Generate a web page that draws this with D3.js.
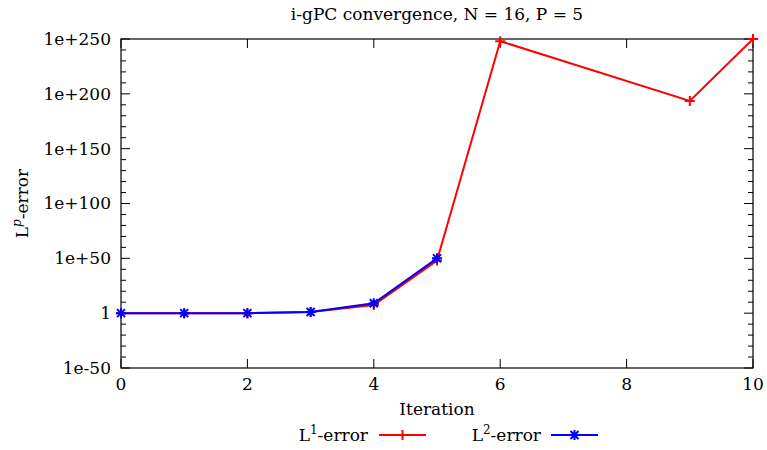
<!DOCTYPE html>
<html>
<head>
<meta charset="utf-8">
<script src="https://cdn.jsdelivr.net/npm/d3@7"></script>
<style>
  body { margin: 0; background: #fff; }
</style>
</head>
<body>
<div id="chart"></div>
<script>
// data (log10 of the error)
const iterations = [0, 1, 2, 3, 4, 5, 6, 9, 10]
const l1Log = [0, 0, 0, 1, 7.5, 48, 248, 193.5, 250]
const l2Iter = [0, 1, 2, 3, 4, 5]
const l2Log = [0, 0, 0, 1, 9, 50]
const yTicks = [-50, 0, 50, 100, 150, 200, 250]
const xTicks = [0, 2, 4, 6, 8, 10]

const width = 767, height = 450
const margin = { top: 39, right: 14, bottom: 82, left: 121 }
const bw = width - margin.left - margin.right
const bh = height - margin.top - margin.bottom
const font = "'DejaVu Serif', 'Liberation Serif', serif"

const svg = d3.select("#chart").append("svg")
  .attr("width", width).attr("height", height)
  .attr("font-family", font)

const g = svg.append("g").attr("transform", `translate(${margin.left},${margin.top})`)

const x = d3.scaleLinear().domain([0, 10]).range([0, bw])
const y = d3.scaleLinear().domain([-50, 250]).range([bh, 0])

const yLabel = v => v === 0 ? "1" : (v > 0 ? "1e+" + v : "1e" + v)

// ticks (inward, mirrored)
const minorY = d3.range(-50, 251, 10).filter(v => v % 50 !== 0)
const tickG = g.append("g").attr("stroke", "#000").attr("stroke-width", 1)
yTicks.forEach(v => {
  tickG.append("line").attr("x1", 0).attr("x2", 9).attr("y1", y(v)).attr("y2", y(v))
  tickG.append("line").attr("x1", bw).attr("x2", bw - 9).attr("y1", y(v)).attr("y2", y(v))
})
minorY.forEach(v => {
  tickG.append("line").attr("x1", 0).attr("x2", 5).attr("y1", y(v)).attr("y2", y(v))
  tickG.append("line").attr("x1", bw).attr("x2", bw - 5).attr("y1", y(v)).attr("y2", y(v))
})
xTicks.forEach(v => {
  tickG.append("line").attr("x1", x(v)).attr("x2", x(v)).attr("y1", bh).attr("y2", bh - 9)
  tickG.append("line").attr("x1", x(v)).attr("x2", x(v)).attr("y1", 0).attr("y2", 9)
})

// frame
g.append("rect").attr("width", bw).attr("height", bh)
  .attr("fill", "none").attr("stroke", "#000").attr("stroke-width", 1.2)

// tick labels
g.selectAll(".ylab").data(yTicks).enter().append("text")
  .attr("x", -10).attr("y", d => y(d)).attr("dy", "0.35em")
  .attr("text-anchor", "end").attr("font-size", 17).text(yLabel)
g.selectAll(".xlab").data(xTicks).enter().append("text")
  .attr("x", d => x(d)).attr("y", bh + 22)
  .attr("text-anchor", "middle").attr("font-size", 17).text(d => d)

// titles
svg.append("text").attr("x", margin.left + bw / 2).attr("y", 20)
  .attr("text-anchor", "middle").attr("font-size", 17).text("i-gPC convergence, N = 16, P = 5")
svg.append("text").attr("x", margin.left + bw / 2).attr("y", 415)
  .attr("text-anchor", "middle").attr("font-size", 17).text("Iteration")
const yt = svg.append("text").attr("transform", `translate(28,${margin.top + bh / 2}) rotate(-90)`)
  .attr("text-anchor", "middle").attr("font-size", 17)
yt.append("tspan").text("L")
yt.append("tspan").attr("font-style", "italic").attr("font-size", 12).attr("dy", -7).text("p")
yt.append("tspan").attr("dy", 7).text("-error")

// markers
function plus(sel, cx, cy, color) {
  sel.append("path").attr("d", `M${cx - 5},${cy}H${cx + 5}M${cx},${cy - 5}V${cy + 5}`)
    .attr("stroke", color).attr("stroke-width", 2)
}
function star(sel, cx, cy, color) {
  sel.append("path").attr("d",
    `M${cx - 5},${cy}H${cx + 5}M${cx},${cy - 5}V${cy + 5}M${cx - 4},${cy - 4}L${cx + 4},${cy + 4}M${cx - 4},${cy + 4}L${cx + 4},${cy - 4}`)
    .attr("stroke", color).attr("stroke-width", 2)
}

const line = d3.line().x(d => x(d[0])).y(d => y(d[1]))
const l1 = iterations.map((it, i) => [it, l1Log[i]])
const l2 = l2Iter.map((it, i) => [it, l2Log[i]])

g.append("path").attr("d", line(l1)).attr("fill", "none").attr("stroke", "#ff0000").attr("stroke-width", 2)
l1.forEach(d => plus(g, x(d[0]), y(d[1]), "#ff0000"))
g.append("path").attr("d", line(l2)).attr("fill", "none").attr("stroke", "#0000ff").attr("stroke-width", 2)
l2.forEach(d => star(g, x(d[0]), y(d[1]), "#0000ff"))

// legend
const ly = 435
const lt1 = svg.append("text").attr("x", 368).attr("y", ly).attr("dy", "0.35em")
  .attr("text-anchor", "end").attr("font-size", 17)
lt1.append("tspan").text("L")
lt1.append("tspan").attr("font-size", 12).attr("dy", -7).text("1")
lt1.append("tspan").attr("dy", 7).text("-error")
svg.append("line").attr("x1", 379).attr("x2", 426).attr("y1", ly).attr("y2", ly)
  .attr("stroke", "#ff0000").attr("stroke-width", 2)
plus(svg, 402.5, ly, "#ff0000")

const lt2 = svg.append("text").attr("x", 541).attr("y", ly).attr("dy", "0.35em")
  .attr("text-anchor", "end").attr("font-size", 17)
lt2.append("tspan").text("L")
lt2.append("tspan").attr("font-size", 12).attr("dy", -7).text("2")
lt2.append("tspan").attr("dy", 7).text("-error")
svg.append("line").attr("x1", 551).attr("x2", 598).attr("y1", ly).attr("y2", ly)
  .attr("stroke", "#0000ff").attr("stroke-width", 2)
star(svg, 574.5, ly, "#0000ff")
</script>
</body>
</html>
